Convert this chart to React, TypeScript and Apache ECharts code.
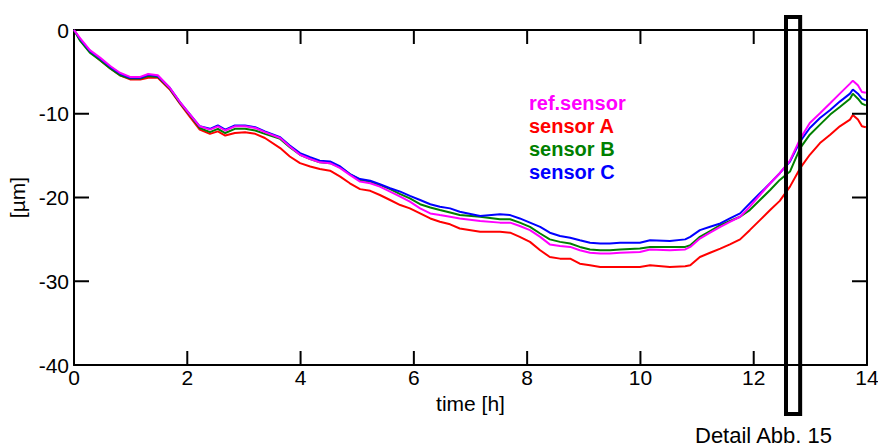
import React, { useEffect, useRef } from "react";
import * as echarts from "echarts";

const timeH = [
  0, 0.11, 0.28, 0.46, 0.64, 0.81, 0.99, 1.17, 1.31, 1.48, 1.69, 1.87, 2.05, 2.22, 2.4, 2.54, 2.67, 2.84,
  3.02, 3.2, 3.37, 3.64, 3.81, 3.99, 4.17, 4.34, 4.52, 4.7, 4.87, 5.05, 5.23, 5.4, 5.58, 5.76, 5.93, 6.11,
  6.29, 6.46, 6.64, 6.81, 7.17, 7.52, 7.7, 7.87, 8.05, 8.23, 8.4, 8.58, 8.76, 8.93, 9.11, 9.29, 9.46, 9.64,
  9.99, 10.17, 10.52, 10.79, 10.88, 11.05, 11.23, 11.41, 11.58, 11.76, 11.93, 12.11, 12.29, 12.46, 12.64,
  12.82, 12.99, 13.17, 13.35, 13.52, 13.7, 13.75, 13.84, 13.91, 13.98,
];

const refSensor = [
  0, -1.0, -2.4, -3.3, -4.3, -5.1, -5.6, -5.6, -5.25, -5.4, -6.9, -8.6, -10.1, -11.5, -11.9, -11.5, -12.0, -11.5,
  -11.5, -11.7, -12.2, -12.9, -13.9, -14.9, -15.4, -15.8, -15.9, -16.5, -17.3, -18.1, -18.3, -18.7, -19.3, -19.9, -20.5, -21.3,
  -21.9, -22.1, -22.3, -22.5, -22.8, -23.0, -23.0, -23.4, -23.9, -24.7, -25.6, -25.8, -25.9, -26.3, -26.6, -26.7, -26.7, -26.6,
  -26.5, -26.2, -26.3, -26.2, -25.9, -24.9, -24.2, -23.5, -22.9, -22.3, -21.1, -19.7, -18.3, -17.1, -15.6,
  -13.0, -11.1, -9.95, -8.75, -7.6, -6.4, -6.05, -6.6, -7.4, -7.5,
];

const sensorA = [
  0, -1.2, -2.6, -3.6, -4.6, -5.4, -5.9, -5.9, -5.7, -5.7, -7.1, -8.8, -10.4, -11.9, -12.4, -12.1, -12.6, -12.3,
  -12.2, -12.4, -12.9, -14.1, -15.1, -15.9, -16.3, -16.6, -16.8, -17.5, -18.3, -19.0, -19.2, -19.7, -20.3, -20.9, -21.3, -21.9,
  -22.5, -22.9, -23.2, -23.7, -24.1, -24.1, -24.2, -24.7, -25.3, -26.3, -27.1, -27.3, -27.3, -27.9, -28.1, -28.3, -28.3, -28.3,
  -28.3, -28.1, -28.3, -28.2, -28.1, -27.1, -26.6, -26.1, -25.6, -25.0, -23.9, -22.7, -21.5, -20.4, -18.7,
  -16.5, -14.9, -13.5, -12.5, -11.5, -10.7, -10.15, -10.7, -11.5, -11.6,
];

const sensorB = [
  0, -1.3, -2.7, -3.6, -4.6, -5.4, -5.8, -5.8, -5.5, -5.6, -7.0, -8.7, -10.2, -11.7, -12.2, -11.8, -12.3, -11.8,
  -11.8, -12.0, -12.4, -13.0, -14.0, -14.9, -15.4, -15.8, -15.9, -16.4, -17.2, -17.9, -18.1, -18.5, -19.0, -19.6, -20.1, -20.8,
  -21.2, -21.5, -21.8, -22.1, -22.3, -22.6, -22.6, -23.0, -23.5, -24.3, -25.0, -25.3, -25.5, -25.9, -26.2, -26.3, -26.3, -26.2,
  -26.1, -25.9, -25.9, -25.9, -25.7, -24.7, -24.0, -23.3, -22.8, -22.3, -21.5, -20.3, -19.1, -17.9, -16.9,
  -14.1, -12.5, -11.3, -10.1, -9.2, -8.2, -7.6, -8.2, -8.8, -9.0,
];

const sensorC = [
  0, -1.1, -2.5, -3.4, -4.4, -5.2, -5.7, -5.7, -5.35, -5.5, -6.9, -8.6, -10.1, -11.5, -11.8, -11.4, -11.9, -11.4,
  -11.4, -11.6, -12.1, -12.8, -13.8, -14.7, -15.2, -15.6, -15.7, -16.3, -17.2, -17.8, -18.0, -18.4, -18.9, -19.3, -19.8, -20.3,
  -20.8, -21.1, -21.3, -21.7, -22.2, -22.0, -22.1, -22.5, -23.0, -23.5, -24.2, -24.6, -24.8, -25.1, -25.4, -25.5, -25.5, -25.4,
  -25.4, -25.1, -25.2, -25.0, -24.7, -23.9, -23.5, -23.1, -22.5, -21.9, -20.7, -19.5, -18.3, -17.1, -15.7,
  -13.3, -11.7, -10.5, -9.55, -8.55, -7.6, -7.1, -7.6, -8.2, -8.4,
];

const xRange = { min: 0, max: 14, interval: 2 };
const yRange = { min: -40, max: 0, interval: 10 };
const xTickValues = [2, 4, 6, 8, 10, 12];
const yTickValues = [-10, -20, -30];
const detailRange = [12.57, 12.82];
const detailLabel = "Detail Abb. 15";
const xName = "time [h]";
const yName = "[µm]";

const seriesDefs = [
  { name: "sensor A", data: sensorA, color: "#ff0000" },
  { name: "sensor B", data: sensorB, color: "#008000" },
  { name: "sensor C", data: sensorC, color: "#0000ff" },
  { name: "ref.sensor", data: refSensor, color: "#ff00ff" },
];
const legendOrder = ["ref.sensor", "sensor A", "sensor B", "sensor C"];

const FONT = "'Liberation Sans', Arial, sans-serif";
const TICK_LEN = 14;

export default function App() {
  const ref = useRef<HTMLDivElement>(null);
  useEffect(() => {
    if (!ref.current) return;
    const chart = echarts.init(ref.current, undefined, { renderer: "svg" });
    const axisLine = () => ({ show: true, onZero: false, lineStyle: { color: "#000", width: 2 } });
    const label = { color: "#000", fontSize: 21, fontFamily: FONT };
    chart.setOption({
      animation: false,
      backgroundColor: "#fff",
      textStyle: { fontFamily: FONT },
      grid: {
        left: 74,
        top: 30,
        right: 11,
        bottom: 81,
        containLabel: false,
        outerBoundsMode: "none",
      },
      legend: {
        orient: "vertical",
        left: 519,
        top: 86,
        icon: "none",
        itemWidth: 0,
        itemHeight: 0,
        itemGap: 0,
        selectedMode: false,
        textStyle: { fontSize: 20, fontWeight: "bold", fontFamily: FONT, lineHeight: 23 },
        data: legendOrder.map((n) => ({
          name: n,
          textStyle: { color: seriesDefs.find((s) => s.name === n)!.color },
        })),
      },
      xAxis: [
        {
          type: "value",
          position: "bottom",
          ...xRange,
          name: xName,
          nameLocation: "middle",
          nameGap: 27,
          nameTextStyle: { color: "#000", fontSize: 21, fontFamily: FONT },
          axisLine: axisLine(),
          axisTick: { show: false },
          axisLabel: { ...label, margin: 2 },
          splitLine: { show: false },
        },
        {
          type: "value",
          position: "top",
          ...xRange,
          axisLine: axisLine(),
          axisTick: { show: false },
          axisLabel: { show: false },
          splitLine: { show: false },
        },
      ],
      yAxis: [
        {
          type: "value",
          position: "left",
          ...yRange,
          name: yName,
          nameLocation: "middle",
          nameGap: 46,
          nameTextStyle: { color: "#000", fontSize: 21, fontFamily: FONT },
          axisLine: axisLine(),
          axisTick: { show: false },
          axisLabel: { ...label, margin: 5 },
          splitLine: { show: false },
        },
        {
          type: "value",
          position: "right",
          ...yRange,
          axisLine: axisLine(),
          axisTick: { show: false },
          axisLabel: { show: false },
          splitLine: { show: false },
        },
      ],
      series: seriesDefs.map((s) => ({
        type: "line",
        name: s.name,
        xAxisIndex: 0,
        yAxisIndex: 0,
        showSymbol: false,
        symbol: "none",
        color: s.color,
        lineStyle: { color: s.color, width: 2 },
        data: timeH.map((t, i) => [t, s.data[i]]),
      })),
    });

    const pt = (t: number, v: number) =>
      chart.convertToPixel({ gridIndex: 0 }, [t, v]) as unknown as number[];
    const tickRect = (x: number, y: number, w: number, h: number) => ({
      type: "rect",
      z: 90,
      silent: true,
      shape: { x, y, width: w, height: h },
      style: { fill: "#000", stroke: "none" },
    });
    const tickEls: any[] = [];
    xTickValues.forEach((v) => {
      const b = pt(v, yRange.min);
      const t = pt(v, yRange.max);
      tickEls.push(tickRect(b[0] - 1, b[1] - TICK_LEN, 2, TICK_LEN));
      tickEls.push(tickRect(t[0] - 1, t[1], 2, TICK_LEN));
    });
    yTickValues.forEach((v) => {
      const l = pt(xRange.min, v);
      const r = pt(xRange.max, v);
      tickEls.push(tickRect(l[0], l[1] - 1, TICK_LEN + 1, 2));
      tickEls.push(tickRect(r[0] - TICK_LEN - 1, r[1] - 1, TICK_LEN + 1, 2));
    });
    const d0 = pt(detailRange[0], yRange.min);
    const d1 = pt(detailRange[1], yRange.min);
    chart.setOption({
      graphic: [
        ...tickEls,
        {
          type: "rect",
          z: 100,
          shape: { x: d0[0], y: 17, width: d1[0] - d0[0], height: 397 },
          style: { fill: "none", stroke: "#000", lineWidth: 4 },
        },
        {
          type: "text",
          z: 100,
          x: 695,
          y: 424,
          style: { text: detailLabel, fill: "#000", fontSize: 22, fontFamily: FONT },
        },
      ],
    });
    return () => chart.dispose();
  }, []);
  return (
    <div
      ref={ref}
      style={{ position: "fixed", left: 0, top: 0, width: 878, height: 446, background: "#fff" }}
    />
  );
}
